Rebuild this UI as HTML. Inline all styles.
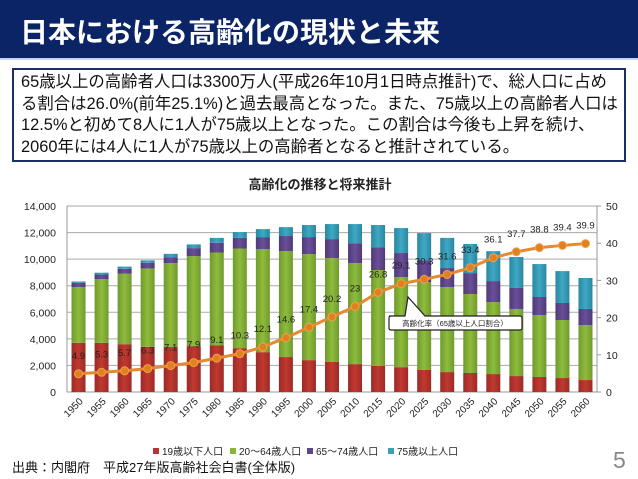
<!DOCTYPE html>
<html><head><meta charset="utf-8">
<style>
body{margin:0;width:638px;height:479px;overflow:hidden;background:#fff;font-family:"Liberation Sans","Noto Sans CJK JP",sans-serif;position:relative}
#hdr{position:absolute;left:0;top:0;width:638px;height:58px;background:#0b2466;border-bottom:2px solid #c9d3e6}
#hdr h1{margin:0;position:absolute;left:20px;top:11px;color:#fff;font-size:28px;font-weight:bold;letter-spacing:0px;font-family:"Liberation Sans","Noto Sans CJK JP",sans-serif}
#box{position:absolute;left:12px;top:68px;width:614px;height:94px;border:2px solid #1a2f66;box-sizing:border-box;padding:2px 0 0 7px;font-size:16.4px;line-height:21.5px;color:#111;letter-spacing:0px;white-space:nowrap}
#src{position:absolute;left:12px;top:457px;font-size:13px;color:#111}
#pg{position:absolute;left:613px;top:447px;font-size:23px;color:#888}
svg{position:absolute;left:0;top:0}
</style></head><body>
<div id="hdr"><h1>日本における高齢化の現状と未来</h1></div>
<div id="box">65歳以上の高齢者人口は3300万人(平成26年10月1日時点推計)で、総人口に占め<br>る割合は26.0%(前年25.1%)と過去最高となった。また、75歳以上の高齢者人口は<br>12.5%と初めて8人に1人が75歳以上となった。この割合は今後も上昇を続け、<br>2060年には4人に1人が75歳以上の高齢者となると推計されている。</div>
<svg id="chart" width="638" height="479">
<defs>
<linearGradient id="gR" x1="0" x2="1"><stop offset="0" stop-color="#9c2a28"/><stop offset="0.5" stop-color="#c0392f"/><stop offset="1" stop-color="#9c2a28"/></linearGradient>
<linearGradient id="gG" x1="0" x2="1"><stop offset="0" stop-color="#6f9a2e"/><stop offset="0.5" stop-color="#8fbc3c"/><stop offset="1" stop-color="#6f9a2e"/></linearGradient>
<linearGradient id="gP" x1="0" x2="1"><stop offset="0" stop-color="#4f3a78"/><stop offset="0.5" stop-color="#6a4f98"/><stop offset="1" stop-color="#4f3a78"/></linearGradient>
<linearGradient id="gB" x1="0" x2="1"><stop offset="0" stop-color="#2a87a0"/><stop offset="0.5" stop-color="#3fa8c4"/><stop offset="1" stop-color="#2a87a0"/></linearGradient>
</defs>
<text x="320" y="189" text-anchor="middle" font-size="13" font-weight="bold" fill="#222">高齢化の推移と将来推計</text>
<g id="grid"></g><g id="bars"></g><g id="line"></g><g id="axes"></g>
</svg>
<div id="src">出典：内閣府　平成27年版高齢社会白書(全体版)</div>
<div id="pg">5</div>
<script>
const years=["1950","1955","1960","1965","1970","1975","1980","1985","1990","1995","2000","2005","2010","2015","2020","2025","2030","2035","2040","2045","2050","2055","2060"];
const under19=[3700,3700,3600,3400,3390,3450,3500,3300,3000,2630,2400,2260,2100,1960,1870,1660,1500,1430,1350,1200,1130,1050,900];
const age20to64=[4200,4800,5300,5900,6310,6780,7000,7500,7760,7970,7980,7820,7600,7220,6780,6620,6400,5940,5420,5050,4660,4370,4140];
const age65to74=[310,340,370,420,450,600,730,800,900,1140,1280,1430,1500,1720,1810,1620,1430,1580,1580,1580,1360,1280,1210];
const age75plus=[110,140,170,190,250,280,370,440,600,670,910,1130,1440,1670,1880,2060,2270,2190,2250,2330,2480,2400,2330];
const agingRate=[4.9,5.3,5.7,6.3,7.1,7.9,9.1,10.3,12.1,14.6,17.4,20.2,23,26.8,29.1,30.3,31.6,33.4,36.1,37.7,38.8,39.4,39.9];
const rateLabels=["4.9","5.3","5.7","6.3","7.1","7.9","9.1","10.3","12.1","14.6","17.4","20.2","23","26.8","29.1","30.3","31.6","33.4","36.1","37.7","38.8","39.4","39.9"];
const leftTicks=[0,2000,4000,6000,8000,10000,12000,14000];
const leftTickLabels=["0","2,000","4,000","6,000","8,000","10,000","12,000","14,000"];
const rightTicks=[0,10,20,30,40,50];
const seriesNames=["19歳以下人口","20～64歳人口","65～74歳人口","75歳以上人口"];

const NS="http://www.w3.org/2000/svg";
const X0=67,X1=597,Y0=392,Y1=206;
const step=(X1-X0)/years.length;
const xC=i=>X0+step*(i+0.5);
const yL=v=>Y0-(v/14000)*(Y0-Y1);
const yR=v=>Y0-(v/50)*(Y0-Y1);
function mk(tag,attrs,parent){const e=document.createElementNS(NS,tag);for(const k in attrs)e.setAttribute(k,attrs[k]);parent.appendChild(e);return e;}
const G=document.getElementById('grid'),B=document.getElementById('bars'),L=document.getElementById('line'),A=document.getElementById('axes');
leftTicks.forEach((t,i)=>{
 const ln=mk('line',{x1:X0,x2:X1,y1:yL(t),y2:yL(t),stroke:i==0?'#999':'#aaa','stroke-width':1},G);
 
 
 const tx=mk('text',{x:X0-11,y:yL(t)+4,'text-anchor':'end','font-size':10.5,fill:'#222'},A);tx.textContent=leftTickLabels[i];
 
 
});
mk('line',{x1:X0,x2:X0,y1:Y1,y2:Y0,stroke:'#999'},G);
mk('line',{x1:X1,x2:X1,y1:Y1,y2:Y0,stroke:'#999'},G);
rightTicks.forEach(t=>{
 mk('line',{x1:X1,x2:X1+4,y1:yR(t),y2:yR(t),stroke:'#999'},G);
 const tx=mk('text',{x:X1+9,y:yR(t)+4,'font-size':10.5,fill:'#222'},A);tx.textContent=t;
 
 
});
const fills=['url(#gR)','url(#gG)','url(#gP)','url(#gB)'];
const segNames=['bar-under19','bar-20-64','bar-65-74','bar-75plus'];
const series=[under19,age20to64,age65to74,age75plus];
years.forEach((y,i)=>{
 let acc=0;
 series.forEach((s,k)=>{
  const top=acc+s[i];
  const r=mk('rect',{x:xC(i)-7,width:14,y:yL(top),height:yL(acc)-yL(top),fill:fills[k]},B);
  
  
  acc=top;
 });
 const tx=mk('text',{'font-size':10,fill:'#222','text-anchor':'end',transform:`translate(${xC(i)+5},${Y0+10}) rotate(-45)`},A);tx.textContent=y;
 
 
});
const pts=agingRate.map((v,i)=>`${xC(i)},${yR(v)}`).join(' ');
const pl=mk('polyline',{points:pts,fill:'none',stroke:'#e58a2e','stroke-width':3},L);


agingRate.forEach((v,i)=>{
 const c=mk('circle',{cx:xC(i),cy:yR(v),r:4,fill:'#e0801f',stroke:'#f0a050','stroke-width':1},L);
 
 
 const tx=mk('text',{x:xC(i),y:yR(v)-15,'text-anchor':'middle','font-size':9.5,fill:'#222'},L);tx.textContent=rateLabels[i];
 
 
});
const co=mk('path',{d:'M389,316 L405,316 L408,297 L425,316 L520,316 Q522,316 522,318 L522,328 Q522,330 520,330 L391,330 Q389,330 389,328 L389,318 Q389,316 391,316 Z',fill:'#fff',stroke:'#222','stroke-width':1.2},L);


const ct=mk('text',{x:455,y:326,'text-anchor':'middle','font-size':7.5,fill:'#222'},L);ct.textContent='高齢化率（65歳以上人口割合）';


const lc=['#b8342f','#8ab53b','#60458e','#3aa0bc'];const lx=[153,230,307,388];
seriesNames.forEach((n,k)=>{
 const r=mk('rect',{x:lx[k],y:448,width:6,height:6,fill:lc[k]},A);
 
 
 const t=mk('text',{x:lx[k]+9,y:455,'font-size':10,fill:'#222'},A);t.textContent=n;
 
 
});
</script>
</body></html>
